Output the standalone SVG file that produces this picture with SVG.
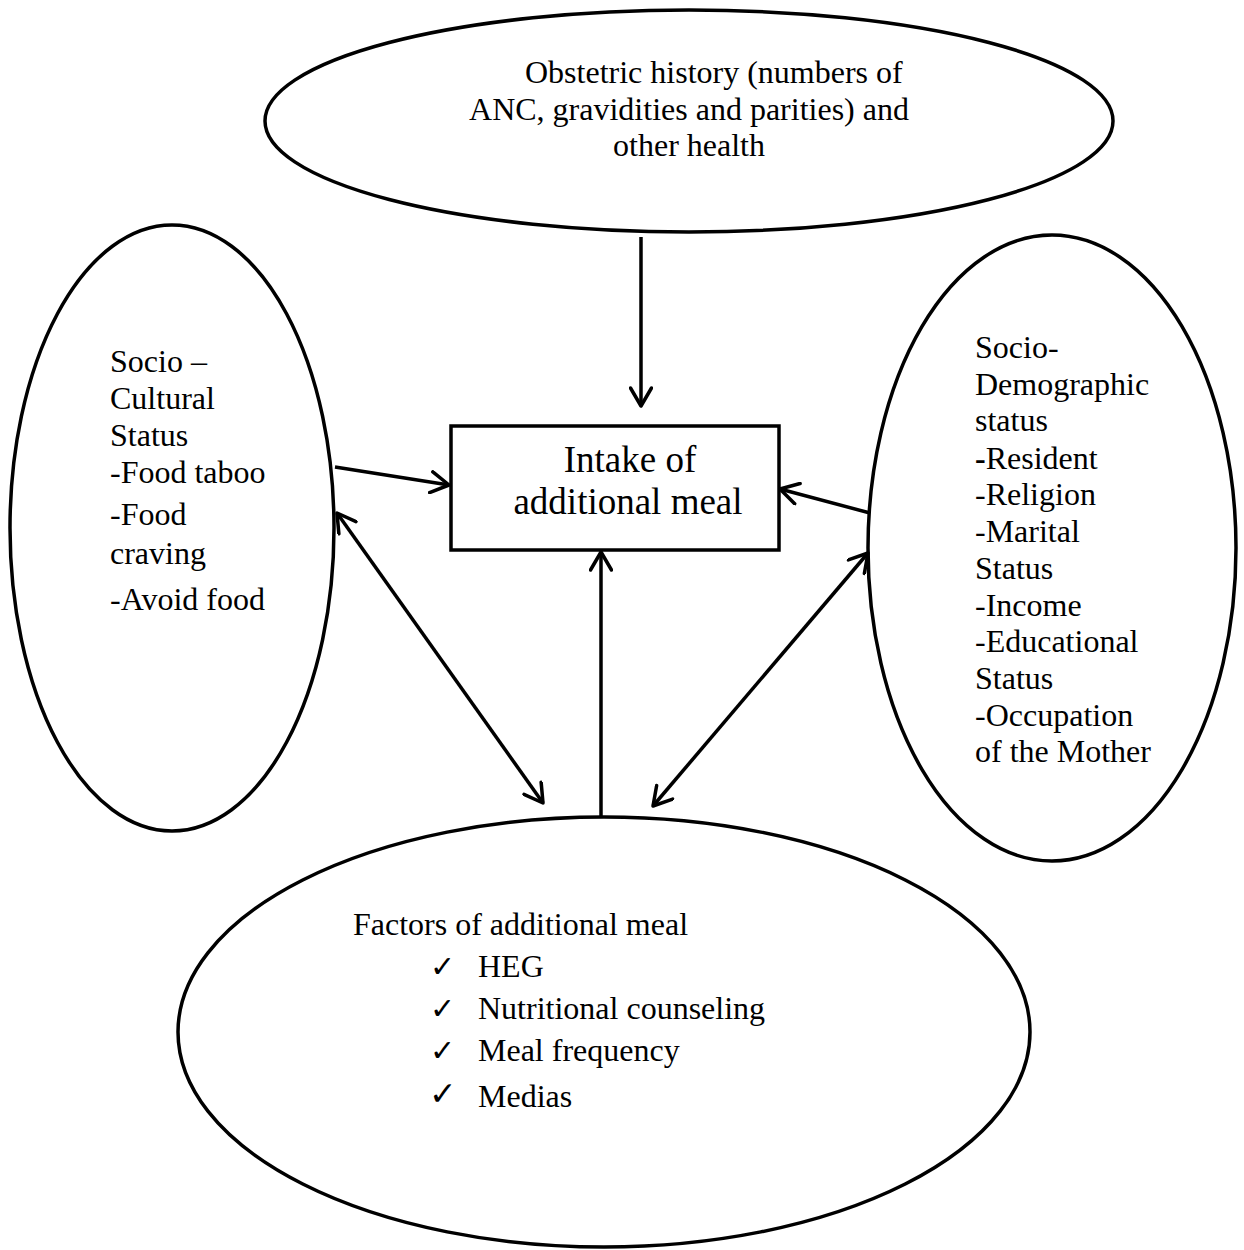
<svg xmlns="http://www.w3.org/2000/svg" width="1244" height="1250" viewBox="0 0 1244 1250">
<style>
.shape{fill:#fff;stroke:#000;stroke-width:3.5}
.t{font-family:"Liberation Serif","Times New Roman",serif;font-size:32px;fill:#000}
.big{font-size:37px}
.conn line{stroke:#000;stroke-width:3.5}
.ck{font-family:"DejaVu Sans",sans-serif;font-size:30px;fill:#000}
</style>
<defs>
<marker id="ah" markerUnits="userSpaceOnUse" viewBox="0 0 24 24" refX="20" refY="12" markerWidth="24" markerHeight="24" orient="auto-start-reverse">
<path d="M2,1.5 L20,12 L2,22.5" fill="none" stroke="#000" stroke-width="3.5" stroke-linecap="round" stroke-linejoin="round"/>
</marker>
</defs>
<rect width="1244" height="1250" fill="#fff"/>
<g id="obstetric">
<ellipse class="shape" cx="689" cy="121" rx="424" ry="111"/>
<text class="t" x="525" y="83">Obstetric history (numbers of</text>
<text class="t" x="689" y="120" text-anchor="middle">ANC, gravidities and parities) and</text>
<text class="t" x="689" y="156" text-anchor="middle">other health</text>
</g>
<g id="sociocultural">
<ellipse class="shape" cx="172" cy="528" rx="162" ry="303"/>
<text class="t" x="110" y="372">Socio –</text>
<text class="t" x="110" y="409">Cultural</text>
<text class="t" x="110" y="446">Status</text>
<text class="t" x="110" y="483">-Food taboo</text>
<text class="t" x="110" y="525">-Food</text>
<text class="t" x="110" y="564">craving</text>
<text class="t" x="110" y="610">-Avoid food</text>
</g>
<g id="sociodemographic">
<ellipse class="shape" cx="1052" cy="548" rx="184" ry="313"/>
<text class="t" x="975" y="358">Socio-</text>
<text class="t" x="975" y="395">Demographic</text>
<text class="t" x="975" y="431">status</text>
<text class="t" x="975" y="469"><tspan font-weight="bold">-</tspan>Resident</text>
<text class="t" x="975" y="505">-Religion</text>
<text class="t" x="975" y="542">-Marital</text>
<text class="t" x="975" y="579">Status</text>
<text class="t" x="975" y="616">-Income</text>
<text class="t" x="975" y="652">-Educational</text>
<text class="t" x="975" y="689">Status</text>
<text class="t" x="975" y="726">-Occupation</text>
<text class="t" x="975" y="762">of the Mother</text>
</g>
<g id="factors">
<ellipse class="shape" cx="604" cy="1032" rx="426" ry="215"/>
<text class="t" x="353" y="935">Factors of additional meal</text>
<text class="ck" x="430" y="977">✓</text>
<text class="t" x="478" y="977">HEG</text>
<text class="ck" x="430" y="1019">✓</text>
<text class="t" x="478" y="1019">Nutritional counseling</text>
<text class="ck" x="430" y="1061">✓</text>
<text class="t" x="478" y="1061">Meal frequency</text>
<text class="ck" x="429" y="1105" style="font-size:33px;font-weight:bold">✓</text>
<text class="t" x="478" y="1107">Medias</text>
</g>
<g id="intake">
<rect class="shape" x="451" y="426" width="328" height="124"/>
<text class="t big" x="630" y="472" text-anchor="middle">Intake of</text>
<text class="t big" x="628" y="514" text-anchor="middle">additional meal</text>
</g>
<g class="conn" id="connectors">
<line x1="641" y1="237" x2="641" y2="406" marker-end="url(#ah)"/>
<line x1="335" y1="467" x2="449" y2="485" marker-end="url(#ah)"/>
<line x1="870" y1="513" x2="780" y2="489" marker-end="url(#ah)"/>
<line x1="337" y1="513" x2="543" y2="803" marker-start="url(#ah)" marker-end="url(#ah)"/>
<line x1="601" y1="817" x2="601" y2="552" marker-end="url(#ah)"/>
<line x1="653" y1="806" x2="868" y2="553" marker-start="url(#ah)" marker-end="url(#ah)"/>
</g>
</svg>
